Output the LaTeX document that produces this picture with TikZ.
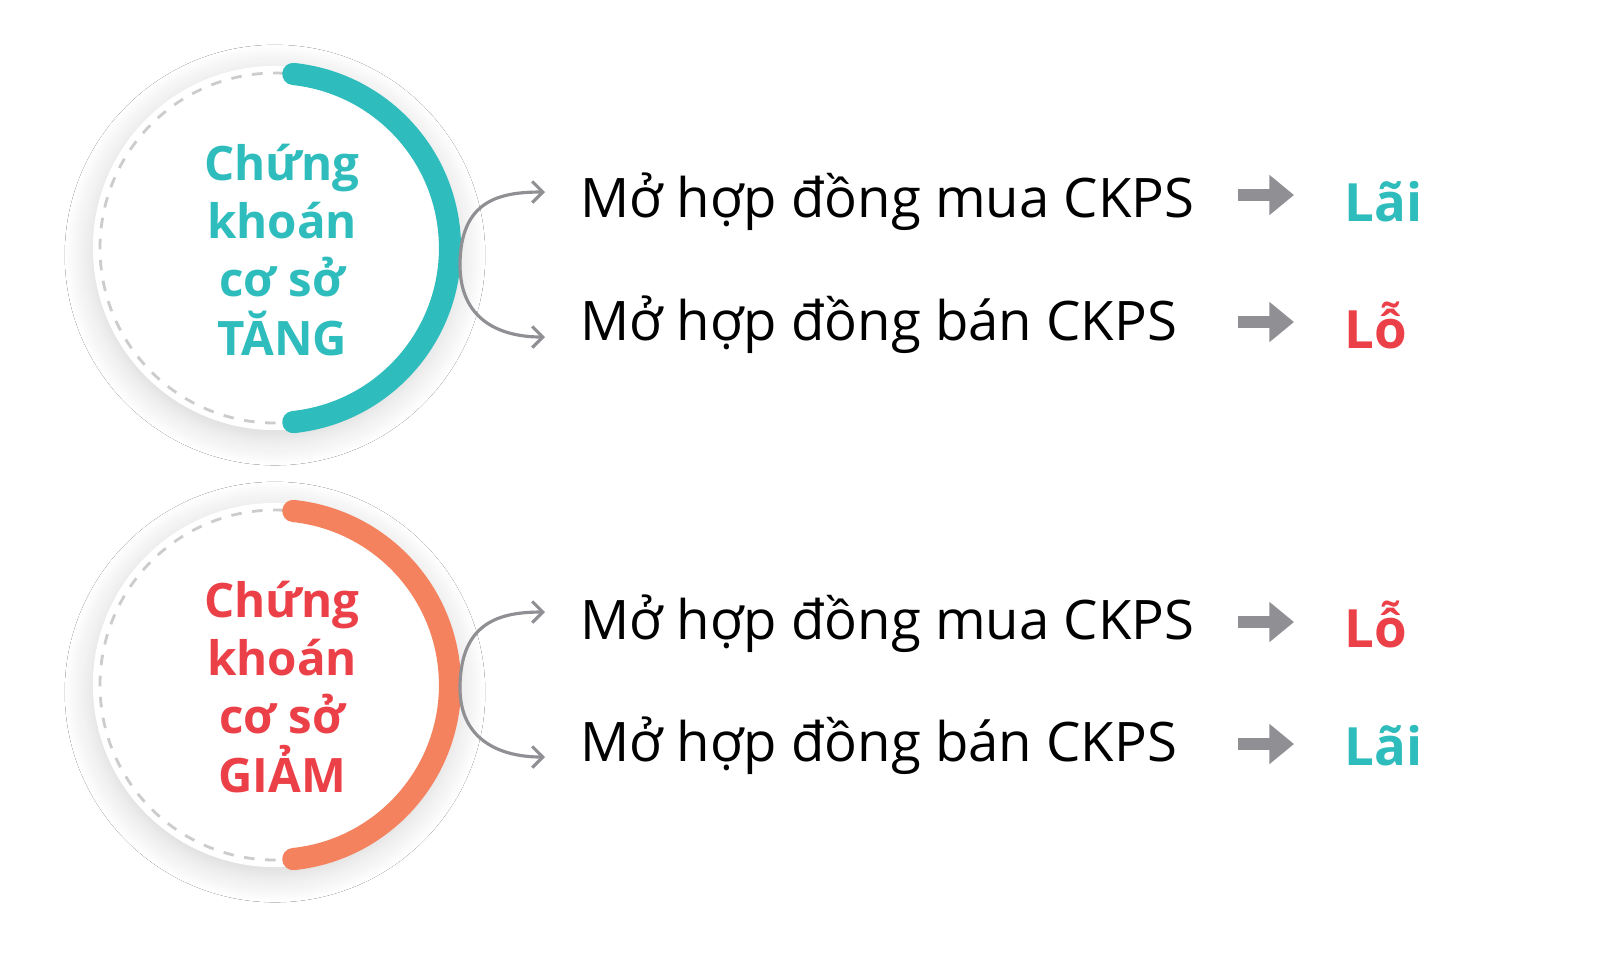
\documentclass[tikz,border=0pt]{standalone}
\usepackage{fontspec}
\setmainfont{Open Sans}
\usetikzlibrary{shadows.blur,arrows.meta}
\definecolor{tealc}{HTML}{2EBCBC}
\definecolor{orangec}{HTML}{F4825E}
\definecolor{redc}{HTML}{EC4048}
\definecolor{arrowgray}{HTML}{8F8F94}
\tikzset{
  disc/.style={circle, fill=white, minimum size=3.64cm, blur shadow={shadow blur steps=12, shadow xshift=0pt, shadow yshift=-2pt, shadow blur radius=8pt, shadow opacity=18}},
  headtext/.style={align=center, font=\fontsize{13.5}{16.5}\selectfont\bfseries},
  itemtext/.style={anchor=west, font=\fontsize{15.5}{18}\selectfont},
  result/.style={anchor=west, font=\fontsize{15}{18}\selectfont\bfseries},
  bendline/.style={draw=arrowgray, line width=0.9pt, -{Straight Barb[length=3pt]}},
  fat/.style={draw=arrowgray, line width=3.3pt, -{Triangle[length=7pt,width=11pt]}}
}
\begin{document}
\begin{tikzpicture}[x=0.01cm, y=-0.01cm]
    \useasboundingbox (0,0) rectangle (1600,956);
    \fill[white] (0,0) rectangle (1600,956);

    % Upper circle
    \node[disc] (up) at (275,248) {};
    \draw[gray!40, dashed, line width=0.8pt] (up.center) circle (175);
    \draw[tealc, line width=6.3pt, line cap=round] (275,248) ++(84:175) arc (84:-84:175);
    \node[headtext, text=tealc] (uptext) at (282,250) {Chứng\\ khoán\\cơ sở\\TĂNG};

    % Lower circle
    \node[disc] (down) at (275,685) {};
    \draw[gray!40, dashed, line width=0.8pt] (down.center) circle (175);
    \draw[orangec, line width=6.3pt, line cap=round] (275,685) ++(84:175) arc (84:-84:175);
    \node[headtext, text=redc] (downtext) at (282,687) {Chứng\\ khoán\\cơ sở\\GIẢM};

    % Items
    \node[itemtext] (m1) at (568,202) {Mở hợp đồng mua CKPS};
    \node[itemtext] (b1) at (568,325) {Mở hợp đồng bán CKPS};
    \node[itemtext] (m2) at (568,624) {Mở hợp đồng mua CKPS};
    \node[itemtext] (b2) at (568,746) {Mở hợp đồng bán CKPS};

    \node[result, text=tealc] (r1) at (1332,202) {Lãi};
    \node[result, text=redc] (r2) at (1332,325) {Lỗ};
    \node[result, text=redc] (r3) at (1332,624) {Lỗ};
    \node[result, text=tealc] (r4) at (1332,746) {Lãi};

    % Bends
    \coordinate (s1) at (460,265);
    \coordinate (s2) at (460,688);
    \draw[bendline] (s1) .. controls (460,200) and (500,192) .. (545,192);
    \draw[bendline] (s1) .. controls (460,320) and (500,337) .. (545,337);
    \draw[bendline] (s2) .. controls (460,622) and (500,612) .. (545,612);
    \draw[bendline] (s2) .. controls (460,740) and (500,757) .. (545,757);

    % Fat arrows
    \foreach \y in {195,322,622,744}
      \draw[fat] (1238,\y) -- (1294,\y);
\end{tikzpicture}
\end{document}
